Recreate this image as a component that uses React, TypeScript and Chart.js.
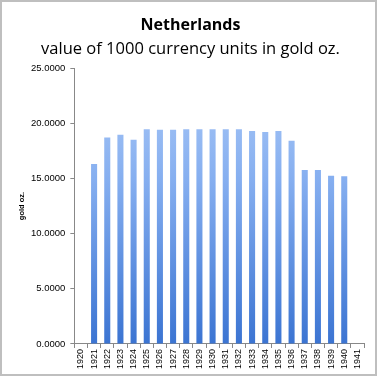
import React, { useEffect, useRef } from "react";
import { Chart, registerables } from "chart.js";
Chart.register(...registerables);

const years = ["1920","1921","1922","1923","1924","1925","1926","1927","1928","1929","1930","1931","1932","1933","1934","1935","1936","1937","1938","1939","1940","1941"];
const goldOz = [null,16.3,18.7,18.95,18.5,19.45,19.4,19.4,19.45,19.45,19.45,19.45,19.45,19.3,19.2,19.3,18.4,15.75,15.75,15.25,15.2,null];
const titleText = "Netherlands";
const subtitleText = "value of 1000 currency units in gold oz.";
const yTitle = "gold oz.";

export default function App() {
  const ref = useRef<HTMLCanvasElement>(null);
  useEffect(() => {
    document.body.style.margin = "0";
    const chart = new Chart(ref.current!, {
      type: "bar",
      data: {
        labels: years,
        datasets: [{
          data: goldOz as any,
          categoryPercentage: 1,
          barPercentage: 0.46,
          backgroundColor: (c: any) => {
            const area = c.chart.chartArea;
            if (!area) return "#6b9be3";
            const g = c.chart.ctx.createLinearGradient(0, area.bottom, 0, area.top);
            g.addColorStop(0, "#3b74d2");
            g.addColorStop(0.6, "#86aff0");
            g.addColorStop(1, "#aecbf7");
            return g;
          },
        }],
      },
      options: {
        animation: false,
        responsive: false,
        layout: { padding: { left: 15, right: 11, top: 6, bottom: 4 } },
        plugins: {
          legend: { display: false },
          tooltip: { enabled: false },
          title: { display: true, text: titleText, color: "#000", font: { family: "Open Sans", size: 16, weight: "bold" }, padding: { top: 8, bottom: 4 } },
          subtitle: { display: true, text: subtitleText, color: "#000", font: { family: "Open Sans", size: 16.5 }, padding: { top: 0, bottom: 9 } },
        },
        scales: {
          x: {
            grid: { display: true, offset: true, drawOnChartArea: false, drawTicks: true, tickLength: 4, color: "#888" },
            border: { color: "#888" },
            ticks: { minRotation: 90, maxRotation: 90, color: "#000", font: { family: "Liberation Sans", size: 9 }, padding: 1, autoSkip: false },
          },
          y: {
            min: 0, max: 25,
            grid: { display: true, drawOnChartArea: false, drawTicks: true, tickLength: 4, color: "#888" },
            border: { color: "#888" },
            title: { display: true, text: yTitle, color: "#000", font: { family: "Liberation Sans", size: 7.5, weight: "bold" }, padding: { top: 0, bottom: 0 } },
            ticks: { stepSize: 5, color: "#000", font: { family: "Liberation Sans", size: 9.5 }, padding: 5, callback: (v: any) => Number(v).toFixed(4) },
          },
        },
      },
    });
    return () => chart.destroy();
  }, []);
  return (
    <div style={{ position: "fixed", left: 0, top: 0, width: 377, height: 376, boxSizing: "border-box", border: "2px solid #bfbfbf", background: "#fff" }}>
      <canvas ref={ref} width={373} height={372} style={{ display: "block" }} />
    </div>
  );
}
